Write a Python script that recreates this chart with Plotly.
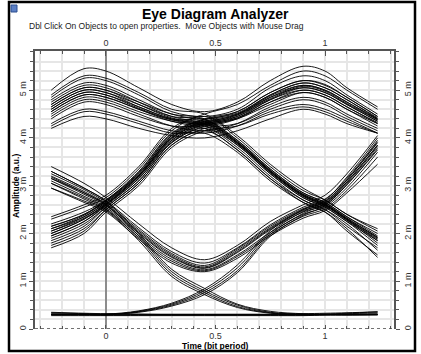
import plotly.graph_objects as go

x_nodes = [-0.25, -0.1, 0.0, 0.15, 0.3, 0.45, 0.6, 0.75, 0.9, 1.0, 1.1, 1.24]

# amplitudes in milli a.u., one row per trace, grouped by bit pattern
eye_111 = [
    [5.00, 5.45, 5.40, 5.05, 4.70, 4.55, 4.75, 5.20, 5.50, 5.40, 5.05, 4.65],
    [4.85, 5.25, 5.20, 4.90, 4.55, 4.45, 4.60, 5.05, 5.30, 5.20, 4.90, 4.50],
    [4.80, 5.15, 5.10, 4.80, 4.50, 4.40, 4.55, 4.95, 5.20, 5.12, 4.85, 4.45],
    [4.75, 5.10, 5.05, 4.75, 4.45, 4.35, 4.50, 4.90, 5.15, 5.05, 4.80, 4.40],
    [4.70, 5.05, 5.00, 4.70, 4.42, 4.32, 4.48, 4.88, 5.10, 5.00, 4.75, 4.38],
    [4.65, 5.00, 4.95, 4.65, 4.40, 4.30, 4.45, 4.85, 5.05, 4.95, 4.70, 4.35],
    [4.60, 4.95, 4.90, 4.62, 4.38, 4.28, 4.42, 4.80, 5.00, 4.90, 4.65, 4.32],
    [4.55, 4.90, 4.85, 4.60, 4.35, 4.25, 4.40, 4.75, 4.95, 4.85, 4.60, 4.30],
    [4.45, 4.80, 4.75, 4.50, 4.25, 4.15, 4.30, 4.65, 4.85, 4.75, 4.50, 4.20],
    [4.30, 4.60, 4.55, 4.35, 4.15, 4.10, 4.25, 4.55, 4.70, 4.60, 4.40, 4.10],
    [4.20, 4.45, 4.40, 4.20, 4.05, 4.00, 4.15, 4.40, 4.60, 4.50, 4.30, 4.10],
]
eye_110 = [
    [4.90, 5.30, 5.25, 4.95, 4.60, 4.50, 4.05, 3.45, 2.95, 2.70, 2.40, 2.05],
    [4.70, 5.05, 5.00, 4.75, 4.50, 4.40, 3.95, 3.35, 2.85, 2.65, 2.35, 1.95],
    [4.65, 5.00, 4.95, 4.70, 4.45, 4.38, 3.92, 3.32, 2.82, 2.62, 2.32, 1.92],
    [4.60, 4.95, 4.90, 4.65, 4.40, 4.35, 3.90, 3.30, 2.80, 2.60, 2.30, 1.90],
    [4.55, 4.90, 4.85, 4.60, 4.38, 4.30, 3.88, 3.28, 2.78, 2.58, 2.28, 1.88],
    [4.50, 4.85, 4.80, 4.55, 4.35, 4.25, 3.85, 3.25, 2.75, 2.55, 2.25, 1.85],
    [4.40, 4.75, 4.70, 4.45, 4.25, 4.20, 3.75, 3.15, 2.70, 2.50, 2.15, 1.70],
    [4.25, 4.55, 4.50, 4.30, 4.10, 4.10, 3.70, 3.10, 2.65, 2.45, 2.05, 1.55],
]
eye_011 = [
    [2.35, 2.60, 2.80, 3.40, 4.20, 4.50, 4.70, 5.10, 5.40, 5.30, 5.00, 4.60],
    [2.20, 2.45, 2.70, 3.30, 4.10, 4.40, 4.55, 4.95, 5.20, 5.10, 4.85, 4.45],
    [2.15, 2.40, 2.68, 3.28, 4.08, 4.38, 4.52, 4.90, 5.15, 5.05, 4.80, 4.42],
    [2.10, 2.35, 2.65, 3.25, 4.05, 4.35, 4.50, 4.85, 5.10, 5.00, 4.75, 4.40],
    [2.05, 2.32, 2.62, 3.22, 4.00, 4.32, 4.48, 4.82, 5.08, 4.98, 4.72, 4.38],
    [2.00, 2.30, 2.60, 3.20, 3.95, 4.30, 4.45, 4.80, 5.05, 4.95, 4.70, 4.35],
    [1.95, 2.25, 2.58, 3.15, 3.92, 4.28, 4.42, 4.75, 5.00, 4.90, 4.65, 4.30],
    [1.90, 2.20, 2.55, 3.10, 3.90, 4.25, 4.40, 4.70, 4.95, 4.85, 4.60, 4.25],
    [1.80, 2.10, 2.50, 3.05, 3.85, 4.20, 4.30, 4.60, 4.80, 4.70, 4.45, 4.15],
    [1.70, 2.00, 2.45, 3.00, 3.80, 4.15, 4.25, 4.50, 4.65, 4.55, 4.35, 4.10],
]
eye_010 = [
    [2.30, 2.55, 2.75, 3.35, 4.15, 4.45, 4.00, 3.40, 2.90, 2.70, 2.40, 2.10],
    [2.15, 2.40, 2.70, 3.25, 4.05, 4.35, 3.95, 3.35, 2.85, 2.65, 2.35, 2.00],
    [2.10, 2.38, 2.68, 3.22, 4.02, 4.32, 3.92, 3.32, 2.82, 2.62, 2.32, 1.92],
    [2.05, 2.35, 2.65, 3.20, 4.00, 4.30, 3.90, 3.30, 2.80, 2.60, 2.30, 1.85],
    [2.00, 2.30, 2.62, 3.18, 3.98, 4.28, 3.88, 3.28, 2.78, 2.58, 2.28, 1.80],
    [1.95, 2.25, 2.60, 3.15, 3.95, 4.25, 3.85, 3.25, 2.75, 2.55, 2.25, 1.75],
    [1.85, 2.15, 2.55, 3.10, 3.90, 4.20, 3.80, 3.20, 2.70, 2.50, 2.20, 1.65],
    [1.75, 2.05, 2.50, 3.05, 3.85, 4.15, 3.75, 3.15, 2.65, 2.45, 2.10, 1.50],
]
eye_101 = [
    [3.40, 3.05, 2.75, 2.20, 1.70, 1.45, 1.75, 2.25, 2.60, 2.80, 3.25, 4.05],
    [3.30, 2.95, 2.68, 2.12, 1.62, 1.38, 1.70, 2.18, 2.55, 2.72, 3.15, 3.95],
    [3.25, 2.92, 2.65, 2.08, 1.58, 1.33, 1.68, 2.15, 2.52, 2.68, 3.12, 3.90],
    [3.20, 2.88, 2.62, 2.05, 1.55, 1.30, 1.65, 2.12, 2.50, 2.65, 3.08, 3.85],
    [3.18, 2.85, 2.60, 2.02, 1.52, 1.28, 1.62, 2.10, 2.48, 2.62, 3.05, 3.82],
    [3.15, 2.82, 2.58, 2.00, 1.50, 1.27, 1.60, 2.08, 2.45, 2.60, 3.02, 3.78],
    [3.10, 2.78, 2.55, 1.96, 1.46, 1.24, 1.55, 2.02, 2.40, 2.56, 2.96, 3.70],
    [3.05, 2.72, 2.50, 1.92, 1.42, 1.22, 1.52, 1.98, 2.36, 2.52, 2.90, 3.60],
    [2.95, 2.65, 2.45, 1.88, 1.38, 1.20, 1.48, 1.95, 2.32, 2.48, 2.85, 3.45],
]
eye_100 = [
    [3.30, 2.95, 2.68, 2.00, 1.25, 0.85, 0.52, 0.37, 0.32, 0.31, 0.30, 0.30],
    [3.15, 2.85, 2.60, 1.95, 1.20, 0.80, 0.50, 0.35, 0.31, 0.30, 0.30, 0.30],
    [3.05, 2.75, 2.52, 1.90, 1.15, 0.76, 0.47, 0.34, 0.30, 0.30, 0.30, 0.30],
    [2.95, 2.68, 2.48, 1.85, 1.10, 0.72, 0.45, 0.33, 0.30, 0.30, 0.30, 0.30],
]
eye_001 = [
    [0.30, 0.30, 0.30, 0.36, 0.50, 0.76, 1.22, 1.98, 2.42, 2.62, 3.08, 3.85],
    [0.30, 0.30, 0.30, 0.37, 0.52, 0.80, 1.28, 2.02, 2.46, 2.66, 3.12, 3.92],
    [0.30, 0.30, 0.31, 0.38, 0.54, 0.84, 1.34, 2.06, 2.50, 2.70, 3.18, 4.00],
    [0.31, 0.31, 0.31, 0.35, 0.48, 0.72, 1.18, 1.94, 2.38, 2.58, 3.02, 3.75],
]
eye_000 = [
    [0.34, 0.32, 0.31, 0.31, 0.31, 0.31, 0.31, 0.31, 0.32, 0.33, 0.34, 0.36],
    [0.32, 0.31, 0.30, 0.30, 0.30, 0.30, 0.30, 0.30, 0.30, 0.31, 0.32, 0.34],
    [0.30, 0.30, 0.29, 0.29, 0.29, 0.29, 0.29, 0.29, 0.29, 0.30, 0.31, 0.32],
    [0.28, 0.28, 0.28, 0.28, 0.28, 0.28, 0.28, 0.28, 0.28, 0.29, 0.29, 0.30],
    [0.35, 0.33, 0.32, 0.31, 0.30, 0.30, 0.30, 0.30, 0.30, 0.31, 0.33, 0.36],
]

x_tickvals = [0, 0.5, 1]
x_ticktext = ['0', '0.5', '1']
y_tickvals = [0, 1, 2, 3, 4, 5]
y_ticktext = ['0', '1 m', '2 m', '3 m', '4 m', '5 m']

x_range = [-0.324, 1.315]
y_range = [0, 5.82]

# plot area in pixels of the 421x354 page
L, R, T, B = 35, 394, 51, 329


def px(xp):
    return (xp - L) / (R - L)


def py(yp):
    return (B - yp) / (B - T)


fig = go.Figure()

for rows in [eye_111, eye_110, eye_011, eye_010, eye_101, eye_100, eye_001, eye_000]:
    for row in rows:
        fig.add_trace(go.Scatter(x=x_nodes, y=row, mode='lines',
                                 line=dict(color='black', width=0.9, shape='spline', smoothing=1.0),
                                 hoverinfo='skip', showlegend=False))

# empty trace so the top/right axes get drawn
fig.add_trace(go.Scatter(x=[None], y=[None], xaxis='x2', yaxis='y2', showlegend=False))

grid = '#e6e6e6'
axis_col = '#555555'

fig.update_layout(
    width=421, height=354,
    margin=dict(l=L, r=421 - R, t=T, b=354 - B, autoexpand=False),
    paper_bgcolor='white', plot_bgcolor='white',
    showlegend=False,
    font=dict(family='Arial, Liberation Sans, sans-serif', size=9, color='#333333'),
    xaxis=dict(range=x_range, tickvals=x_tickvals, ticktext=x_ticktext, automargin=False,
               ticks='inside', ticklen=4, tickcolor=axis_col, tickwidth=1,
               showline=False, showgrid=True, gridcolor=grid, gridwidth=1.5,
               zeroline=True, zerolinecolor='#8c8c8c', zerolinewidth=1.5,
               minor=dict(dtick=0.1, tick0=0, ticks='inside', ticklen=3, tickcolor=axis_col,
                          showgrid=True, gridcolor=grid, gridwidth=1.5)),
    xaxis2=dict(range=x_range, overlaying='x', side='top', anchor='y', automargin=False,
                tickvals=x_tickvals, ticktext=x_ticktext,
                ticks='inside', ticklen=5, tickcolor=axis_col,
                showline=True, linecolor=axis_col, linewidth=1.5,
                showgrid=False, zeroline=False,
                minor=dict(dtick=0.1, tick0=0, ticks='inside', ticklen=3, tickcolor=axis_col)),
    yaxis=dict(range=y_range, tickvals=y_tickvals, ticktext=y_ticktext, tickangle=-90, automargin=False,
               ticks='outside', ticklen=4, tickcolor=axis_col,
               showline=True, linecolor=axis_col, linewidth=1.5,
               showgrid=True, gridcolor=grid, gridwidth=1.5, zeroline=False,
               minor=dict(dtick=0.2, tick0=0, ticks='outside', ticklen=3, tickcolor=axis_col,
                          showgrid=True, gridcolor=grid, gridwidth=1.5)),
    yaxis2=dict(range=y_range, overlaying='y', side='right', anchor='x', automargin=False,
                tickvals=y_tickvals, ticktext=y_ticktext, tickangle=-90,
                ticks='outside', ticklen=4, tickcolor=axis_col,
                showline=True, linecolor=axis_col, linewidth=1.5,
                showgrid=False, zeroline=False,
                minor=dict(dtick=0.2, tick0=0, ticks='outside', ticklen=3, tickcolor=axis_col)),
)

# dotted bottom axis line
fig.add_shape(type='line', xref='x', yref='y', x0=x_range[0], x1=x_range[1], y0=0, y1=0,
              line=dict(color='#444444', width=1.5, dash='dot'))

# window frame and icon
fig.add_shape(type='rect', xref='paper', yref='paper', x0=px(9), x1=px(415), y0=py(351), y1=py(2),
              line=dict(color='black', width=2.5))
fig.add_shape(type='rect', xref='paper', yref='paper', x0=px(11), x1=px(17), y0=py(12), y1=py(5),
              line=dict(color='#2d4f8f', width=1), fillcolor='#5b7fc4')

fig.add_annotation(text='<b>Eye Diagram Analyzer</b>', xref='paper', yref='paper',
                   x=px(215), y=py(14), xanchor='center', yanchor='middle',
                   showarrow=False, font=dict(size=14, color='black'))
fig.add_annotation(text='Dbl Click On Objects to open properties.  Move Objects with Mouse Drag',
                   xref='paper', yref='paper', x=px(27), y=py(26), xanchor='left', yanchor='middle',
                   showarrow=False, font=dict(size=8.5, color='#222222'))
fig.add_annotation(text='<b>Amplitude (a.u.)</b>', xref='paper', yref='paper', x=px(16), y=py(186),
                   xanchor='center', yanchor='middle', textangle=-90, showarrow=False,
                   font=dict(size=8.5, color='black'))
fig.add_annotation(text='<b>Time (bit period)</b>', xref='paper', yref='paper', x=px(215), y=py(345.5),
                   xanchor='center', yanchor='middle', showarrow=False,
                   font=dict(size=8.5, color='black'))

# page body has a default 8px margin; drop it so the figure sits at the window corner
fig.write_html("out.html", config={'displayModeBar': False},
               post_script="document.body.style.margin = '0';")
